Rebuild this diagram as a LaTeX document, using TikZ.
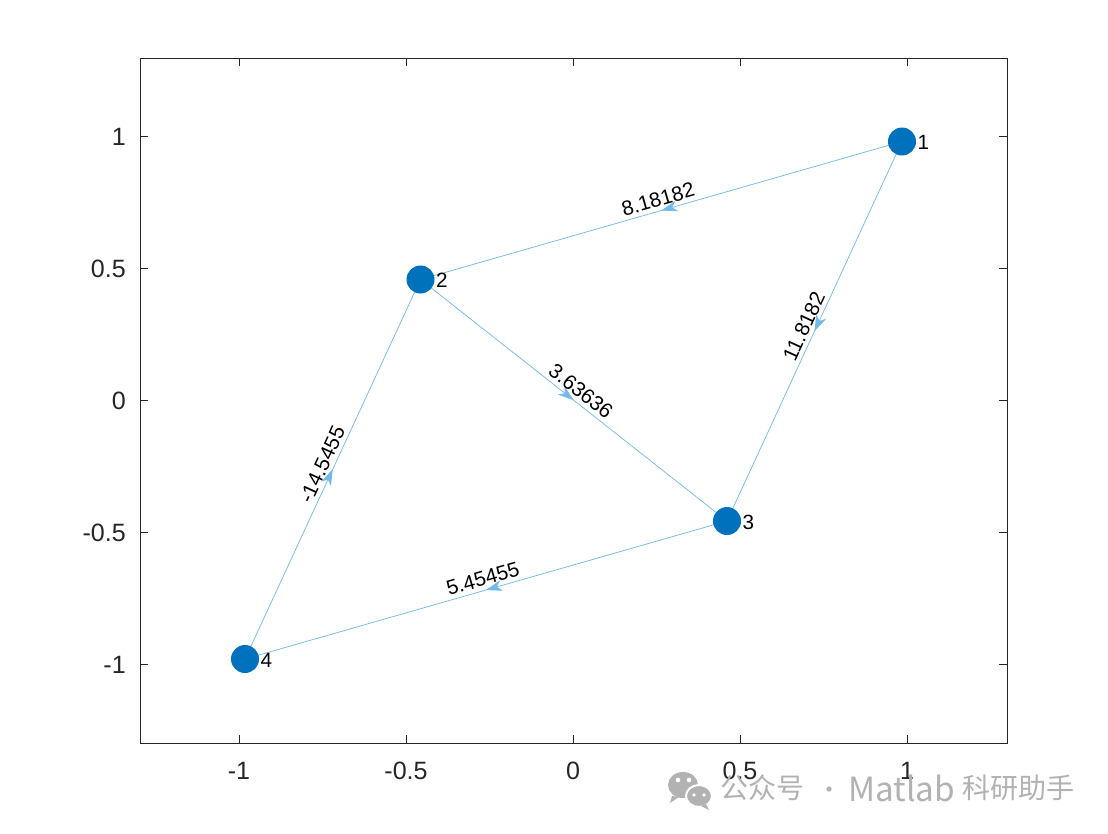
\documentclass[tikz,border=0pt]{standalone}
\usepackage{fontspec}
\setmainfont{Liberation Sans}
\newfontfamily\cjk{Noto Sans CJK SC}
\usetikzlibrary{arrows.meta,decorations.markings}
\definecolor{axc}{RGB}{38,38,38}
\definecolor{nodec}{RGB}{0,114,189}
\definecolor{edgec}{RGB}{115,186,235}
\definecolor{wm}{RGB}{178,178,178}
\begin{document}
\begin{tikzpicture}[x=0.75pt,y=-0.75pt,
  dot/.style={circle,fill=nodec,minimum size=21pt,inner sep=0pt},
  nlab/.style={anchor=west,inner sep=0pt,font=\fontsize{15.5}{17}\selectfont,text=black},
  edgeline/.style={draw=edgec,line width=0.55pt,postaction={decorate},
    decoration={markings,mark=at position 0.5 with {\arrow[color=edgec]{Stealth[length=12pt,width=8pt,inset=3.5pt]}}}},
  elab/.style={midway,sloped,anchor=south,inner sep=3pt,font=\fontsize{15.5}{17}\selectfont,text=black},
  axline/.style={draw=axc,line width=0.7pt},
  ticklab/.style={inner sep=0pt,text=axc,font=\fontsize{18.8}{21}\selectfont},
  wmtext/.style={inner sep=0pt,text=wm,font=\cjk\fontsize{21}{24}\selectfont},
  wmlatin/.style={inner sep=0pt,text=wm,font=\cjk\fontsize{25}{28}\selectfont}]
\useasboundingbox[fill=white] (0,0) rectangle (1108,833);
% axes box
\draw[axline] (140,58) rectangle (1007,743);
\foreach \x/\l in {239/-1,406/-0.5,573/0,740/0.5,907/1}{
  \draw[axline] (\x,743) -- (\x,735);
  \draw[axline] (\x,58) -- (\x,66);
  \node[ticklab,anchor=north] (xt\x) at (\x,762) {\l};
}
\foreach \y/\l in {136/1,268/0.5,400/0,532/-0.5,664/-1}{
  \draw[axline] (140,\y) -- (148,\y);
  \draw[axline] (1007,\y) -- (999,\y);
  \node[ticklab,anchor=east] (yt\y) at (126,\y+1) {\l};
}
% node centres
\coordinate (p1) at (902,141.5);
\coordinate (p2) at (420.5,279.5);
\coordinate (p3) at (727,521);
\coordinate (p4) at (245,659);
% edges
\draw[edgeline] (p1) -- node[elab] {8.18182} (p2);
\draw[edgeline] (p1) -- node[elab] {11.8182} (p3);
\draw[edgeline] (p2) -- node[elab] {3.63636} (p3);
\draw[edgeline] (p3) -- node[elab] {5.45455} (p4);
\draw[edgeline] (p4) -- node[elab] {-14.5455} (p2);
% nodes
\foreach \i in {1,2,3,4}{
  \node[dot] (n\i) at (p\i) {};
  \node[nlab] (l\i) at ([xshift=11.5pt,yshift=-0.8pt]p\i) {\i};
}
% watermark
\fill[wm] (683,785) ellipse [x radius=15, y radius=13];
\fill[wm] (672,796) -- (670,803) -- (679,797) -- cycle;
\filldraw[fill=wm,draw=white,line width=1.5pt] (699,796) ellipse [x radius=13, y radius=11];
\fill[wm] (706,804) -- (709,810) -- (701,806) -- cycle;
\fill[white] (678,780) circle (2.3) (689,780) circle (2.3) (694,795) circle (1.9) (704,795) circle (1.9);
\node[wmtext,anchor=west] (w1) at (720,788) {公众号};
\fill[wm] (829,789) circle (2.6);
\node[wmlatin,anchor=west] (w3) at (848,788) {Matlab};
\node[wmtext,anchor=west] (w4) at (962,788) {科研助手};
\end{tikzpicture}
\end{document}
